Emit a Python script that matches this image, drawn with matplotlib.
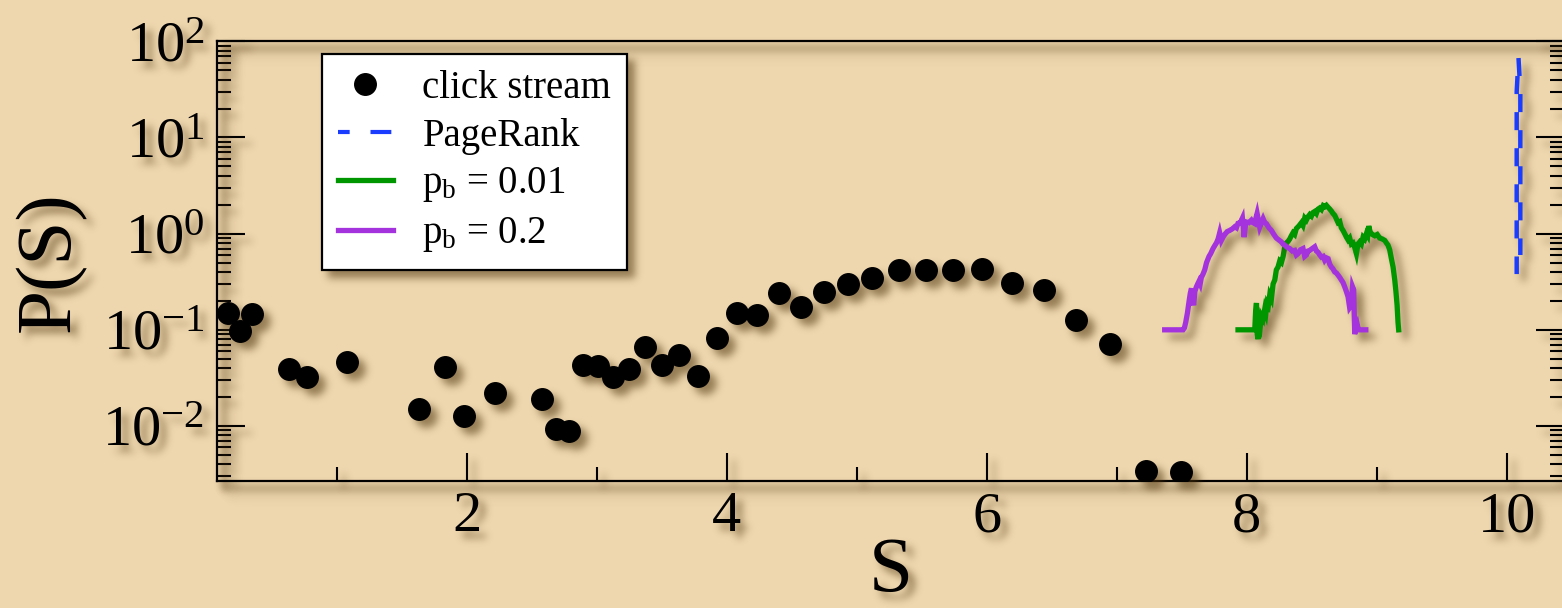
import numpy as np
import matplotlib
matplotlib.use('Agg')
import matplotlib.pyplot as plt
from matplotlib.lines import Line2D
from matplotlib.ticker import MultipleLocator, LogLocator, NullFormatter

# click stream histogram
click_s = [0.163, 0.253, 0.343, 0.630, 0.766, 1.074, 1.632, 1.832, 1.976, 2.215,
           2.578, 2.682, 2.786, 2.889, 3.005, 3.120, 3.245, 3.368, 3.497, 3.632,
           3.778, 3.925, 4.076, 4.235, 4.399, 4.568, 4.745, 4.930, 5.120, 5.322,
           5.528, 5.742, 5.966, 6.197, 6.438, 6.689, 6.948, 7.222, 7.497]
click_p = [0.150, 0.097, 0.145, 0.039, 0.032, 0.046, 0.0152, 0.041, 0.0126, 0.022,
           0.019, 0.0093, 0.0089, 0.043, 0.042, 0.032, 0.039, 0.066, 0.043, 0.055,
           0.033, 0.082, 0.151, 0.141, 0.242, 0.173, 0.250, 0.298, 0.349, 0.419,
           0.419, 0.416, 0.433, 0.307, 0.258, 0.126, 0.071, 0.0034, 0.0033]

# PageRank: very narrow peak near S = 10.09
pr_s = [10.076, 10.076, 10.090, 10.104, 10.104]
pr_p = [0.38, 30.0, 67.0, 30.0, 0.60]

# p_b = 0.01
pb001_s = [7.932, 8.061, 8.068, 8.074, 8.080, 8.086, 8.095, 8.104, 8.112, 8.125,
           8.138, 8.147, 8.156, 8.166, 8.176, 8.189, 8.202, 8.215, 8.227, 8.240,
           8.253, 8.266, 8.279, 8.291, 8.304, 8.317, 8.330, 8.342, 8.355, 8.368,
           8.381, 8.400, 8.420, 8.432, 8.445, 8.458, 8.471, 8.484, 8.497, 8.510,
           8.522, 8.535, 8.548, 8.561, 8.574, 8.587, 8.599, 8.612, 8.625, 8.638,
           8.650, 8.663, 8.676, 8.689, 8.702, 8.715, 8.727, 8.740, 8.753, 8.766,
           8.779, 8.791, 8.804, 8.817, 8.830, 8.843, 8.855, 8.868, 8.881, 8.894,
           8.907, 8.920, 8.930, 8.938, 8.948, 8.958, 8.971, 8.984, 9.003, 9.022,
           9.042, 9.061, 9.074, 9.086, 9.099, 9.112, 9.125, 9.138, 9.147, 9.156,
           9.163, 9.168]
pb001_p = [0.1, 0.1, 0.16, 0.19, 0.09, 0.08, 0.12, 0.11, 0.14, 0.13,
           0.165, 0.15, 0.19, 0.18, 0.23, 0.21, 0.30, 0.33, 0.42, 0.45,
           0.52, 0.50, 0.58, 0.72, 0.80, 0.83, 0.88, 0.95, 1.02, 0.98,
           1.13, 1.20, 1.30, 1.22, 1.45, 1.38, 1.50, 1.58, 1.52, 1.66,
           1.70, 1.62, 1.80, 1.85, 1.78, 1.95, 1.90, 1.97, 1.88, 1.80,
           1.72, 1.62, 1.55, 1.42, 1.30, 1.33, 1.15, 1.08, 1.0, 0.92,
           0.86, 0.90, 0.78, 0.80, 0.72, 0.62, 0.78, 0.82, 0.78, 0.92,
           0.88, 1.0, 0.95, 1.20, 1.05, 1.0, 0.97, 0.95, 0.98, 0.90,
           0.88, 0.85, 0.80, 0.76, 0.68, 0.55, 0.45, 0.33, 0.25, 0.18,
           0.12, 0.1]

# p_b = 0.2
pb02_s = [7.368, 7.509, 7.520, 7.530, 7.543, 7.556, 7.565, 7.574, 7.583, 7.591,
          7.600, 7.612, 7.622, 7.632, 7.641, 7.650, 7.663, 7.676, 7.690, 7.709,
          7.722, 7.740, 7.753, 7.766, 7.779, 7.791, 7.804, 7.817, 7.830, 7.849,
          7.868, 7.888, 7.907, 7.920, 7.932, 7.950, 7.966, 7.979, 7.990, 7.997,
          8.016, 8.035, 8.048, 8.061, 8.070, 8.079, 8.090, 8.099, 8.112, 8.125,
          8.138, 8.150, 8.170, 8.189, 8.208, 8.227, 8.246, 8.266, 8.278, 8.291,
          8.310, 8.330, 8.349, 8.368, 8.381, 8.394, 8.413, 8.432, 8.445, 8.458,
          8.471, 8.484, 8.503, 8.522, 8.535, 8.548, 8.561, 8.574, 8.587, 8.599,
          8.612, 8.625, 8.638, 8.650, 8.663, 8.676, 8.689, 8.702, 8.715, 8.727,
          8.740, 8.753, 8.766, 8.779, 8.791, 8.804, 8.813, 8.822, 8.830, 8.840,
          8.848, 8.858, 8.868, 8.915]
pb02_p = [0.1, 0.1, 0.105, 0.12, 0.15, 0.20, 0.24, 0.27, 0.20, 0.18,
          0.25, 0.28, 0.30, 0.32, 0.30, 0.35, 0.38, 0.42, 0.50, 0.58,
          0.62, 0.70, 0.75, 0.80, 0.88, 1.02, 0.85, 0.92, 0.98, 1.05,
          1.08, 1.12, 1.18, 1.15, 1.28, 1.30, 1.45, 0.92, 1.25, 1.32,
          1.30, 1.38, 1.30, 1.27, 1.45, 1.62, 1.35, 1.17, 1.30, 1.43,
          1.30, 1.27, 1.15, 1.08, 0.98, 0.90, 0.86, 0.82, 0.78, 0.76,
          0.72, 0.70, 0.66, 0.67, 0.60, 0.62, 0.68, 0.70, 0.58, 0.60,
          0.66, 0.67, 0.70, 0.73, 0.66, 0.64, 0.60, 0.57, 0.58, 0.53,
          0.56, 0.55, 0.48, 0.45, 0.43, 0.40, 0.39, 0.37, 0.35, 0.33,
          0.31, 0.28, 0.25, 0.22, 0.17, 0.18, 0.28, 0.26, 0.09, 0.11,
          0.116, 0.1, 0.1, 0.1]

labels = ['click stream', 'PageRank',
          r'p$_\mathregular{b}$ = 0.01', r'p$_\mathregular{b}$ = 0.2']

BG = '#eed6ae'
BLUE = '#1a3cff'
GREEN = '#009600'
PURPLE = '#a433dd'


def gauss_blur(a, sigma):
    r = int(3 * sigma)
    k = np.exp(-0.5 * (np.arange(-r, r + 1) / sigma) ** 2)
    k /= k.sum()
    a = np.apply_along_axis(np.convolve, 0, a, k, 'same')
    a = np.apply_along_axis(np.convolve, 1, a, k, 'same')
    return a


class DropShadow:
    """agg filter: paints a soft offset shadow under whatever the artist drew"""

    def __init__(self, dx=7, dy=7, sigma=4.0, alpha=0.55, color=(0.30, 0.20, 0.05)):
        self.dx, self.dy = dx, dy
        self.sigma = sigma
        self.alpha = alpha
        self.color = color

    def __call__(self, im, dpi):
        p = int(3 * self.sigma) + max(self.dx, self.dy) + 2
        h, w = im.shape[:2]
        src = np.zeros((h + 2 * p, w + 2 * p, 4))
        src[p:p + h, p:p + w] = im
        a = src[..., 3]
        sh = np.roll(a, (self.dy, self.dx), axis=(0, 1))
        sh = np.clip(gauss_blur(sh, self.sigma), 0, 1) * self.alpha
        out_a = a + sh * (1 - a)
        safe = np.where(out_a > 0, out_a, 1)
        out = np.empty_like(src)
        for c in range(3):
            out[..., c] = (src[..., c] * a + self.color[c] * sh * (1 - a)) / safe
        out[..., 3] = out_a
        return np.clip(out, 0, 1), -p, -p


plt.rcParams['font.family'] = ['Liberation Serif', 'DejaVu Serif']
plt.rcParams['mathtext.fontset'] = 'custom'
plt.rcParams['mathtext.rm'] = 'Liberation Serif'
plt.rcParams['mathtext.it'] = 'Liberation Serif:italic'
plt.rcParams['axes.unicode_minus'] = False

fig = plt.figure(figsize=(15.62, 6.08), dpi=100, facecolor=BG)
ax = fig.add_axes([217 / 1562, 1 - 481.3 / 608, 1347 / 1562, 440 / 608])
ax.set_facecolor(BG)

ax.set_yscale('log')
ax.set_xlim(0.077, 10.44)
ax.set_ylim(2.66e-3, 100)

dots, = ax.plot(click_s, click_p, 'o', color='black', ms=15.5, ls='none', zorder=4)

# dash phase chosen so the dashes of the rising and falling flank interleave
pr_lw, pr_dash = 3.2, 4.06
xy = ax.transData.transform(np.column_stack([pr_s, pr_p]))
seg = np.hypot(*np.diff(xy, axis=0).T) * 72 / fig.dpi / pr_lw
pr_off = (-(2 * seg[0] + seg[1] + seg[2]) / 2) % pr_dash
ax.plot(pr_s, pr_p, color=BLUE, lw=pr_lw, ls=(pr_off, (pr_dash, pr_dash)))

green, = ax.plot(pb001_s, pb001_p, color=GREEN, lw=3.8, solid_joinstyle='miter')
purple, = ax.plot(pb02_s, pb02_p, color=PURPLE, lw=3.8, solid_joinstyle='miter')

ax.xaxis.set_major_locator(MultipleLocator(2))
ax.xaxis.set_minor_locator(MultipleLocator(1))
ax.yaxis.set_major_locator(LogLocator(base=10, numticks=10))
ax.yaxis.set_minor_locator(LogLocator(base=10, subs=np.arange(2, 10), numticks=10))
ax.yaxis.set_minor_formatter(NullFormatter())

ax.tick_params(which='both', direction='in', width=1.5, labelsize=42,
               right=True, top=False)
ax.tick_params(which='major', length=20)
ax.tick_params(which='minor', length=10)
ax.tick_params(axis='x', pad=7)
ax.tick_params(axis='y', pad=9)
for sp in ax.spines.values():
    sp.set_linewidth(1.6)

ax.set_xlabel('S', fontsize=57, labelpad=-5)
ax.set_ylabel('P(S)', fontsize=57, labelpad=12)

pr_handle = Line2D([], [], color=BLUE, lw=3.0, ls=(2.2, (5.0, 5.0)))
leg = ax.legend([dots, pr_handle, green, purple], labels,
                loc='upper left', bbox_to_anchor=(0.078, 0.971), borderaxespad=0,
                fontsize=28, fancybox=False, framealpha=1, edgecolor='black',
                handlelength=1.43, handletextpad=0.75, borderpad=0.4,
                labelspacing=0.28, numpoints=1)
leg.get_frame().set_linewidth(1.6)

shadow = DropShadow()
for art in [*ax.lines, ax.xaxis, ax.yaxis, leg, *ax.spines.values()]:
    art.set_agg_filter(shadow)

fig.savefig('out.png', dpi=100, facecolor=BG)
